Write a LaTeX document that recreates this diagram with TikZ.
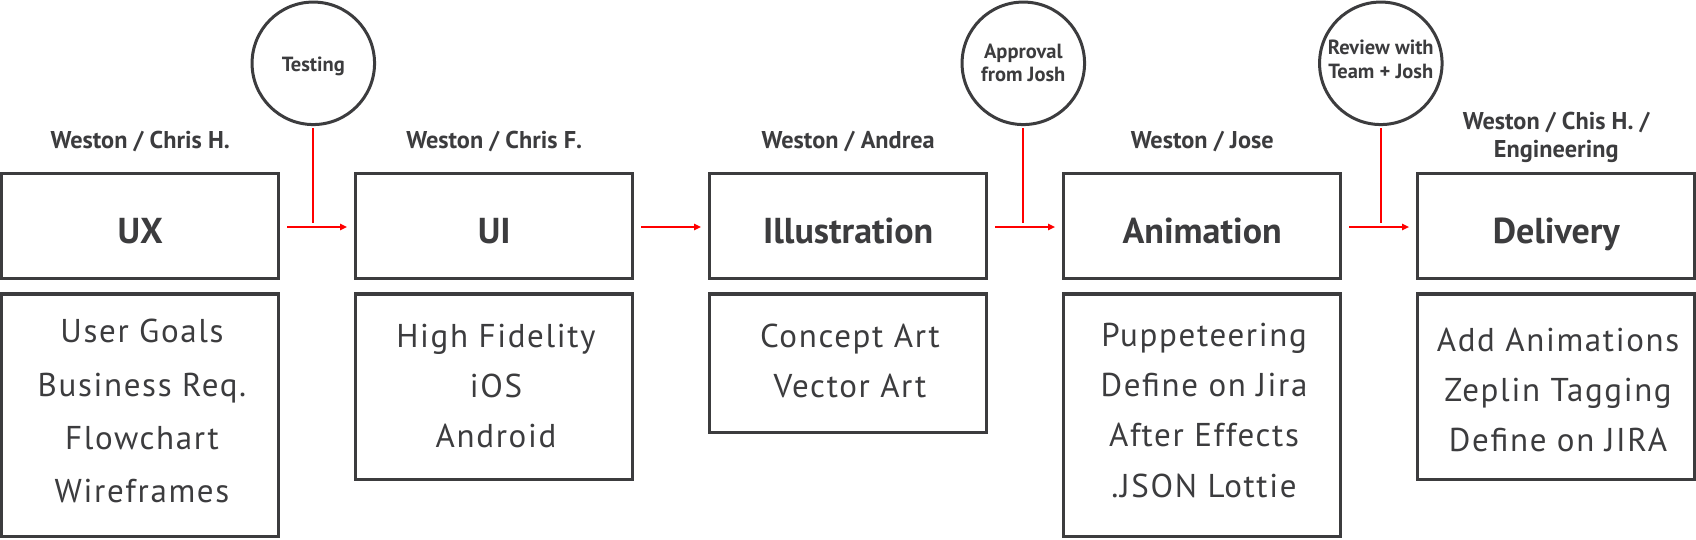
\documentclass[tikz,border=0pt]{standalone}
\usepackage{fontspec}
\setmainfont{PT Sans}
\newfontfamily\listfont{PT Sans}[LetterSpace=5]
\usetikzlibrary{arrows.meta}
\definecolor{ink}{HTML}{3C3C3E}
\definecolor{redc}{HTML}{FF0000}
\begin{document}
\begin{tikzpicture}[x=1pt,y=-1pt,
  box/.style={draw=ink, line width=3.5pt, inner sep=0pt, outer sep=0pt, anchor=north west, minimum width=277pt},
  title/.style={font=\bfseries\fontsize{36}{40}\selectfont, text=ink, anchor=base, inner sep=0pt},
  who/.style={font=\bfseries\fontsize{24.3}{29}\selectfont, text=ink, anchor=base, inner sep=0pt},
  item/.style={font=\listfont\fontsize{33}{38}\selectfont, text=ink, anchor=base, inner sep=0pt},
  gate/.style={circle, draw=ink, line width=3pt, minimum size=122.5pt, inner sep=0pt, outer sep=0pt},
  gatetext/.style={font=\bfseries\fontsize{20.5}{24}\selectfont, text=ink, anchor=base, inner sep=0pt},
  flow/.style={draw=redc, line width=2pt, -{Triangle[length=7pt,width=6pt]}, shorten <=8.3pt, shorten >=8.5pt},
  tie/.style={draw=redc, line width=2pt, shorten <=3.7pt}]
\useasboundingbox (0,0) rectangle (1696,539);
\fill[white] (0,0) rectangle (1696,539);

% top boxes
\node[box, minimum height=104.6pt] (ux)  at (1.7,173.7) {};
\node[box, minimum height=104.6pt] (ui)  at (355.7,173.7) {};
\node[box, minimum height=104.6pt] (ill) at (709.7,173.7) {};
\node[box, minimum height=104.6pt] (ani) at (1063.7,173.7) {};
\node[box, minimum height=104.6pt] (del) at (1417.7,173.7) {};

% titles
\node[title] (uxt)  at (140.2,243) {UX};
\node[title] (uit)  at (494.2,243) {UI};
\node[title] (illt) at (848.2,243) {Illustration};
\node[title] (anit) at (1202.2,243) {Animation};
\node[title] (delt) at (1556.2,243) {Delivery};

% people
\node[who] (uxw)  at (140.2,148.3) {Weston / Chris H.};
\node[who] (uiw)  at (494.2,148.3) {Weston / Chris F.};
\node[who] (illw) at (848.2,148.3) {Weston / Andrea};
\node[who] (aniw) at (1202.2,148.3) {Weston / Jose};
\node[who] (delw) at (1556.2,129.3) {Weston / Chis H. /};
\node[who] (delw2) at (1556.2,157.7) {Engineering};

% lower boxes
\node[box, minimum height=242.7pt] (uxl)  at (1.7,294) {};
\node[box, minimum height=185.3pt] (uil)  at (355.7,294) {};
\node[box, minimum height=138.3pt] (illl) at (709.7,294) {};
\node[box, minimum height=242.7pt] (anil) at (1063.7,294) {};
\node[box, minimum height=185.3pt] (dell) at (1417.7,294) {};

\foreach \t [count=\k] in {User Goals, Business Req., Flowchart, Wireframes}
  \node[item] (uxi\k) at (142,{342.7+(\k-1)*53.4}) {\t};
\foreach \t [count=\k] in {High Fidelity, iOS, Android}
  \node[item] (uii\k) at (496,{347+(\k-1)*50}) {\t};
\foreach \t [count=\k] in {Concept Art, Vector Art}
  \node[item] (illi\k) at (850,{347+(\k-1)*50}) {\t};
\foreach \t [count=\k] in {Puppeteering, Define on Jira, After Effects, .JSON Lottie}
  \node[item] (anii\k) at (1204,{346.5+(\k-1)*50.2}) {\t};
\foreach \t [count=\k] in {Add Animations, Zeplin Tagging, Define on JIRA}
  \node[item] (deli\k) at (1558,{351+(\k-1)*50}) {\t};

% gates
\node[gate] (test) at (313.3,63.3) {};
\node[gate] (appr) at (1023.3,63.3) {};
\node[gate] (rev)  at (1380.8,63.3) {};
\node[gatetext] (testt)  at (313.3,71.7) {Testing};
\node[gatetext] (apprt1) at (1023.3,58) {Approval};
\node[gatetext] (apprt2) at (1023.3,81) {from Josh};
\node[gatetext] (revt1)  at (1380.8,54.3) {Review with};
\node[gatetext] (revt2)  at (1380.8,78.3) {Team + Josh};

\coordinate (testend) at (313.3,222.7);
\coordinate (apprend) at (1023.3,222.7);
\coordinate (revend)  at (1380.8,222.7);

% connectors
\draw[flow] ([yshift=-1pt]ux.east) -- ([yshift=-1pt]ui.west);
\draw[flow] ([yshift=-1pt]ui.east) -- ([yshift=-1pt]ill.west);
\draw[flow] ([yshift=-1pt]ill.east) -- ([yshift=-1pt]ani.west);
\draw[flow] ([yshift=-1pt]ani.east) -- ([yshift=-1pt]del.west);
\draw[tie] (test.south) -- (testend);
\draw[tie] (appr.south) -- (apprend);
\draw[tie] (rev.south) -- (revend);
\end{tikzpicture}
\end{document}
